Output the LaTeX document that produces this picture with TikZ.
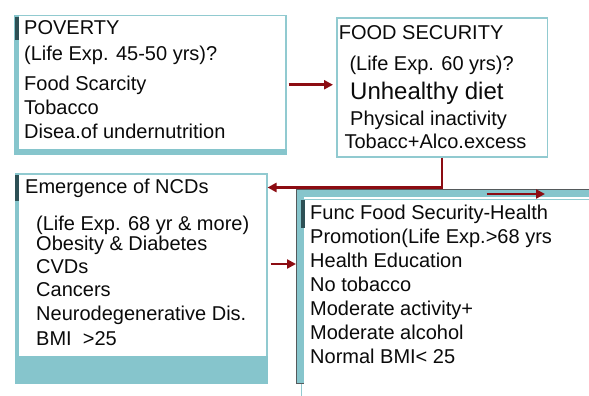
\documentclass[tikz,border=0pt]{standalone}
\usepackage{fontspec}
\setmainfont{Liberation Sans}
\usetikzlibrary{arrows.meta}
\definecolor{tealband}{RGB}{134,197,204}
\definecolor{tealline}{RGB}{145,202,208}
\definecolor{darkstrip}{RGB}{45,80,85}
\definecolor{arrowred}{RGB}{140,12,18}
\definecolor{txt}{RGB}{10,10,10}
\definecolor{outline}{RGB}{85,90,92}
\begin{document}
\begin{tikzpicture}[x=1pt,y=-1pt,
  lbl/.style={anchor=base west, inner sep=0pt, font=\fontsize{20}{24}\selectfont, text=txt},
  biglbl/.style={lbl, font=\fontsize{24}{28}\selectfont},
  boxshape/.style={draw=tealline, line width=1.5pt, anchor=north west, inner sep=0pt},
  conn/.style={draw=arrowred, line width=2.6pt, -{Triangle[length=9pt,width=9pt]}}]
\useasboundingbox (0,0) rectangle (589,396);

% ---- Box 1: POVERTY
\node[boxshape, minimum width=271pt, minimum height=138pt] (pov) at (14,15) {};
\fill[tealband] (pov.north west) rectangle ([xshift=5pt]pov.south west);
\fill[tealband] ([yshift=6pt]pov.south west) rectangle (pov.south east);
\fill[darkstrip] (14.5,17) rectangle (19,40);
\node[lbl] (p1) at (24,34.8) {POVERTY};
\node[lbl] (p2) at (24,60.3) {(Life Exp. 45-50 yrs)?};
\node[lbl] (p3) at (24,90.3) {Food Scarcity};
\node[lbl] (p4) at (24,114.7) {Tobacco};
\node[lbl] (p5) at (24,138.7) {Disea.of undernutrition};

% ---- Box 2: FOOD SECURITY
\node[boxshape, minimum width=210.7pt, minimum height=138.7pt] (fs) at (336,17.3) {};
\node[lbl] (f1) at (338.7,39.3) {FOOD SECURITY};
\node[lbl] (f2) at (349.3,70.7) {(Life Exp. 60 yrs)?};
\node[biglbl] (f3) at (350,99.3) {Unhealthy diet};
\node[lbl] (f4) at (350,125) {Physical inactivity};
\node[lbl] (f5) at (344.3,148.3) {Tobacc+Alco.excess};

% ---- Box 3: Emergence of NCDs
\node[boxshape, minimum width=251.3pt, minimum height=209.4pt] (ncd) at (14.7,173.3) {};
\fill[tealband] (ncd.north west) rectangle ([xshift=4.5pt]ncd.south west);
\fill[tealband] ([yshift=28.7pt]ncd.south west) rectangle (ncd.south east);
\fill[darkstrip] (15,175) rectangle (19,201);
\node[lbl] (n1) at (25,193.3) {Emergence of NCDs};
\node[lbl] (n2) at (36,230) {(Life Exp. 68 yr \& more)};
\node[lbl] (n3) at (36,250.7) {Obesity \& Diabetes};
\node[lbl] (n4) at (36,273.3) {CVDs};
\node[lbl] (n5) at (36,296.7) {Cancers};
\node[lbl] (n6) at (36,320.7) {Neurodegenerative Dis.};
\node[lbl] (n7) at (36,345) {BMI~~>25};

% ---- Box 4: Func Food Security-Health Promotion
\node[anchor=north west, draw=outline, fill=tealband, line width=1pt, inner sep=0pt,
      minimum width=320pt, minimum height=193.7pt] (ff) at (296,189.3) {};
\fill[white] (304,197) rectangle (600,400);
\draw[tealline, line width=0.8pt] (304,199) -- (600,199);
\draw[tealline, line width=0.8pt] (301,383.5) -- (301,396);
\fill[darkstrip] (301,200) rectangle (305,228);
\node[lbl] (g1) at (310,219.3) {Func Food Security-Health};
\node[lbl] (g2) at (310,243.3) {Promotion(Life Exp.>68 yrs};
\node[lbl] (g3) at (310,267.3) {Health Education};
\node[lbl] (g4) at (310,291) {No tobacco};
\node[lbl] (g5) at (310,315) {Moderate activity+};
\node[lbl] (g6) at (310,339.3) {Moderate alcohol};
\node[lbl] (g7) at (310,363.3) {Normal BMI< 25};

% ---- connectors
\coordinate (lvl2) at (0,187.5);
\coordinate (lvl3) at (0,264);
\coordinate (a4s) at (486.7,194);
\coordinate (a4e) at (545,194);
\draw[conn, shorten <=2pt, shorten >=3pt] (pov.east) -- (pov.east -| fs.west);
\draw[conn] (fs.south) -- (fs.south |- lvl2) -- (ncd.east |- lvl2);
\draw[conn, shorten <=3pt] (ncd.east |- lvl3) -- (ff.west |- lvl3);
\draw[conn] (a4s) -- (a4e);
\end{tikzpicture}
\end{document}
